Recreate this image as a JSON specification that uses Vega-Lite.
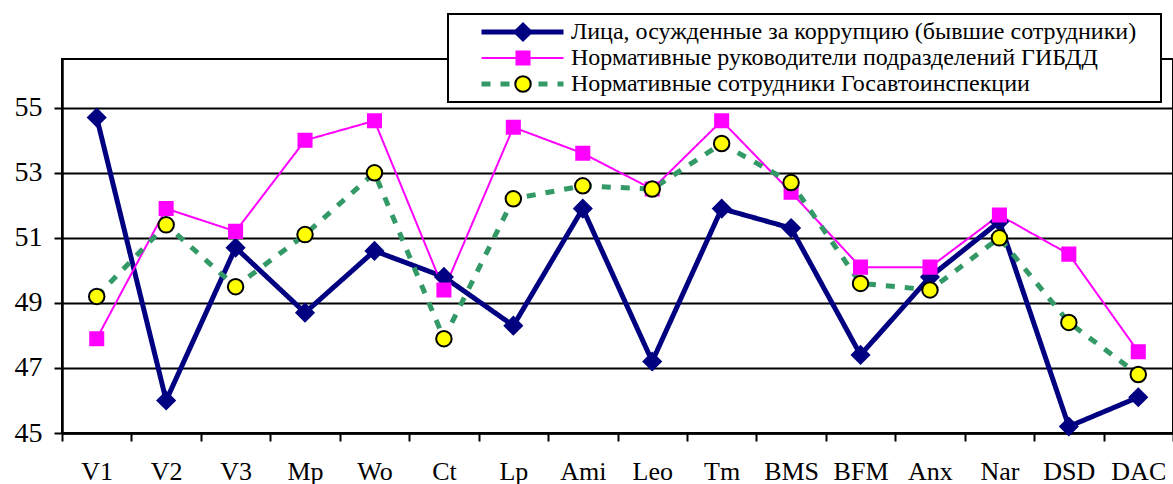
{
  "$schema": "https://vega.github.io/schema/vega-lite/v6.json",
  "width": 1111,
  "height": 374,
  "autosize": {"type": "none"},
  "padding": {"left": 62, "top": 59, "right": 0, "bottom": 51},
  "background": "white",
  "config": {"view": {"stroke": "black", "strokeWidth": 2}, "font": "Liberation Serif, Times New Roman, serif"},
  "data": {"values": [
    {"cat": "V1", "series": "Лица, осужденные за коррупцию (бывшие сотрудники)", "value": 54.7},
    {"cat": "V2", "series": "Лица, осужденные за коррупцию (бывшие сотрудники)", "value": 46.0},
    {"cat": "V3", "series": "Лица, осужденные за коррупцию (бывшие сотрудники)", "value": 50.7},
    {"cat": "Mp", "series": "Лица, осужденные за коррупцию (бывшие сотрудники)", "value": 48.7},
    {"cat": "Wo", "series": "Лица, осужденные за коррупцию (бывшие сотрудники)", "value": 50.6},
    {"cat": "Ct", "series": "Лица, осужденные за коррупцию (бывшие сотрудники)", "value": 49.8},
    {"cat": "Lp", "series": "Лица, осужденные за коррупцию (бывшие сотрудники)", "value": 48.3},
    {"cat": "Ami", "series": "Лица, осужденные за коррупцию (бывшие сотрудники)", "value": 51.9},
    {"cat": "Leo", "series": "Лица, осужденные за коррупцию (бывшие сотрудники)", "value": 47.2},
    {"cat": "Tm", "series": "Лица, осужденные за коррупцию (бывшие сотрудники)", "value": 51.9},
    {"cat": "BMS", "series": "Лица, осужденные за коррупцию (бывшие сотрудники)", "value": 51.3},
    {"cat": "BFM", "series": "Лица, осужденные за коррупцию (бывшие сотрудники)", "value": 47.4},
    {"cat": "Anx", "series": "Лица, осужденные за коррупцию (бывшие сотрудники)", "value": 49.8},
    {"cat": "Nar", "series": "Лица, осужденные за коррупцию (бывшие сотрудники)", "value": 51.5},
    {"cat": "DSD", "series": "Лица, осужденные за коррупцию (бывшие сотрудники)", "value": 45.2},
    {"cat": "DAC", "series": "Лица, осужденные за коррупцию (бывшие сотрудники)", "value": 46.1},
    {"cat": "V1", "series": "Нормативные руководители подразделений ГИБДД", "value": 47.9},
    {"cat": "V2", "series": "Нормативные руководители подразделений ГИБДД", "value": 51.9},
    {"cat": "V3", "series": "Нормативные руководители подразделений ГИБДД", "value": 51.2},
    {"cat": "Mp", "series": "Нормативные руководители подразделений ГИБДД", "value": 54.0},
    {"cat": "Wo", "series": "Нормативные руководители подразделений ГИБДД", "value": 54.6},
    {"cat": "Ct", "series": "Нормативные руководители подразделений ГИБДД", "value": 49.4},
    {"cat": "Lp", "series": "Нормативные руководители подразделений ГИБДД", "value": 54.4},
    {"cat": "Ami", "series": "Нормативные руководители подразделений ГИБДД", "value": 53.6},
    {"cat": "Leo", "series": "Нормативные руководители подразделений ГИБДД", "value": 52.5},
    {"cat": "Tm", "series": "Нормативные руководители подразделений ГИБДД", "value": 54.6},
    {"cat": "BMS", "series": "Нормативные руководители подразделений ГИБДД", "value": 52.4},
    {"cat": "BFM", "series": "Нормативные руководители подразделений ГИБДД", "value": 50.1},
    {"cat": "Anx", "series": "Нормативные руководители подразделений ГИБДД", "value": 50.1},
    {"cat": "Nar", "series": "Нормативные руководители подразделений ГИБДД", "value": 51.7},
    {"cat": "DSD", "series": "Нормативные руководители подразделений ГИБДД", "value": 50.5},
    {"cat": "DAC", "series": "Нормативные руководители подразделений ГИБДД", "value": 47.5},
    {"cat": "V1", "series": "Нормативные сотрудники Госавтоинспекции", "value": 49.2},
    {"cat": "V2", "series": "Нормативные сотрудники Госавтоинспекции", "value": 51.4},
    {"cat": "V3", "series": "Нормативные сотрудники Госавтоинспекции", "value": 49.5},
    {"cat": "Mp", "series": "Нормативные сотрудники Госавтоинспекции", "value": 51.1},
    {"cat": "Wo", "series": "Нормативные сотрудники Госавтоинспекции", "value": 53.0},
    {"cat": "Ct", "series": "Нормативные сотрудники Госавтоинспекции", "value": 47.9},
    {"cat": "Lp", "series": "Нормативные сотрудники Госавтоинспекции", "value": 52.2},
    {"cat": "Ami", "series": "Нормативные сотрудники Госавтоинспекции", "value": 52.6},
    {"cat": "Leo", "series": "Нормативные сотрудники Госавтоинспекции", "value": 52.5},
    {"cat": "Tm", "series": "Нормативные сотрудники Госавтоинспекции", "value": 53.9},
    {"cat": "BMS", "series": "Нормативные сотрудники Госавтоинспекции", "value": 52.7},
    {"cat": "BFM", "series": "Нормативные сотрудники Госавтоинспекции", "value": 49.6},
    {"cat": "Anx", "series": "Нормативные сотрудники Госавтоинспекции", "value": 49.4},
    {"cat": "Nar", "series": "Нормативные сотрудники Госавтоинспекции", "value": 51.0},
    {"cat": "DSD", "series": "Нормативные сотрудники Госавтоинспекции", "value": 48.4},
    {"cat": "DAC", "series": "Нормативные сотрудники Госавтоинспекции", "value": 46.8}
  ]},
  "encoding": {
    "x": {
      "field": "cat", "type": "nominal",
      "sort": ["V1", "V2", "V3", "Mp", "Wo", "Ct", "Lp", "Ami", "Leo", "Tm", "BMS", "BFM", "Anx", "Nar", "DSD", "DAC"],
      "scale": {"type": "band", "paddingInner": 0, "paddingOuter": 0},
      "axis": {"title": null, "labelAngle": 0, "labelFont": "Liberation Serif, Times New Roman, serif", "labelFontSize": 26, "labelColor": "black", "labelPadding": 17, "tickBand": "extent", "tickSize": 8, "tickColor": "black", "tickWidth": 2, "domainColor": "black", "domainWidth": 2.5, "grid": false}
    },
    "y": {
      "field": "value", "type": "quantitative",
      "scale": {"domain": [45, 56.5], "nice": false, "zero": false},
      "axis": {"title": null, "values": [45, 47, 49, 51, 53, 55], "labelFont": "Liberation Serif, Times New Roman, serif", "labelFontSize": 28, "labelColor": "black", "labelPadding": 12, "tickSize": 8, "tickColor": "black", "tickWidth": 2, "domainColor": "black", "domainWidth": 2.5, "grid": true, "gridColor": "black", "gridWidth": 2, "gridOpacity": 1}
    }
  },
  "layer": [
    {
      "mark": {"type": "line", "strokeCap": "butt", "strokeJoin": "miter"},
      "encoding": {
        "color": {
          "field": "series", "type": "nominal",
          "scale": {"domain": ["Лица, осужденные за коррупцию (бывшие сотрудники)", "Нормативные руководители подразделений ГИБДД", "Нормативные сотрудники Госавтоинспекции"], "range": ["#000080", "#FF00FF", "#339966"]},
          "legend": {"orient": "none", "legendX": 386, "legendY": -45, "title": null, "labelFont": "Liberation Serif, Times New Roman, serif", "labelFontSize": 24, "labelColor": "black", "labelLimit": 1000, "labelExpr": "datum.label + '\u00a0\u00a0\u00a0\u200b'", "symbolType": "stroke", "symbolSize": 6724, "clipHeight": 24, "rowPadding": 2, "padding": 6, "symbolOffset": 25, "labelOffset": 5, "strokeColor": "black", "fillColor": "white", "zindex": 1, "encode": {"legend": {"update": {"strokeWidth": {"value": 2}}}}}
        },
        "strokeDash": {
          "field": "series", "type": "nominal",
          "scale": {"domain": ["Лица, осужденные за коррупцию (бывшие сотрудники)", "Нормативные руководители подразделений ГИБДД", "Нормативные сотрудники Госавтоинспекции"], "range": [[1, 0], [1, 0], [9, 10]]}
        },
        "strokeWidth": {
          "field": "series", "type": "ordinal",
          "scale": {"type": "ordinal", "domain": ["Лица, осужденные за коррупцию (бывшие сотрудники)", "Нормативные руководители подразделений ГИБДД", "Нормативные сотрудники Госавтоинспекции"], "range": [5, 2, 5]}
        }
      }
    },
    {
      "mark": {"type": "point", "filled": true, "opacity": 1, "strokeWidth": 2},
      "encoding": {
        "shape": {
          "field": "series", "type": "nominal",
          "scale": {"range": ["diamond", "square", "circle"]},
          "legend": {"orient": "none", "legendX": 443, "legendY": -45, "title": null, "labelFontSize": 24, "labelExpr": "''", "clipHeight": 24, "rowPadding": 2, "padding": 6, "symbolOffset": 0, "symbolStrokeWidth": 2, "zindex": 2}
        },
        "fill": {"field": "series", "type": "nominal", "scale": {"range": ["#000080", "#FF00FF", "#FFFF00"]}},
        "stroke": {"field": "series", "type": "nominal", "scale": {"range": ["#000080", "#FF00FF", "#000000"]}},
        "size": {"field": "series", "type": "ordinal", "scale": {"type": "ordinal", "range": [300, 170, 240]}}
      }
    }
  ]
}
